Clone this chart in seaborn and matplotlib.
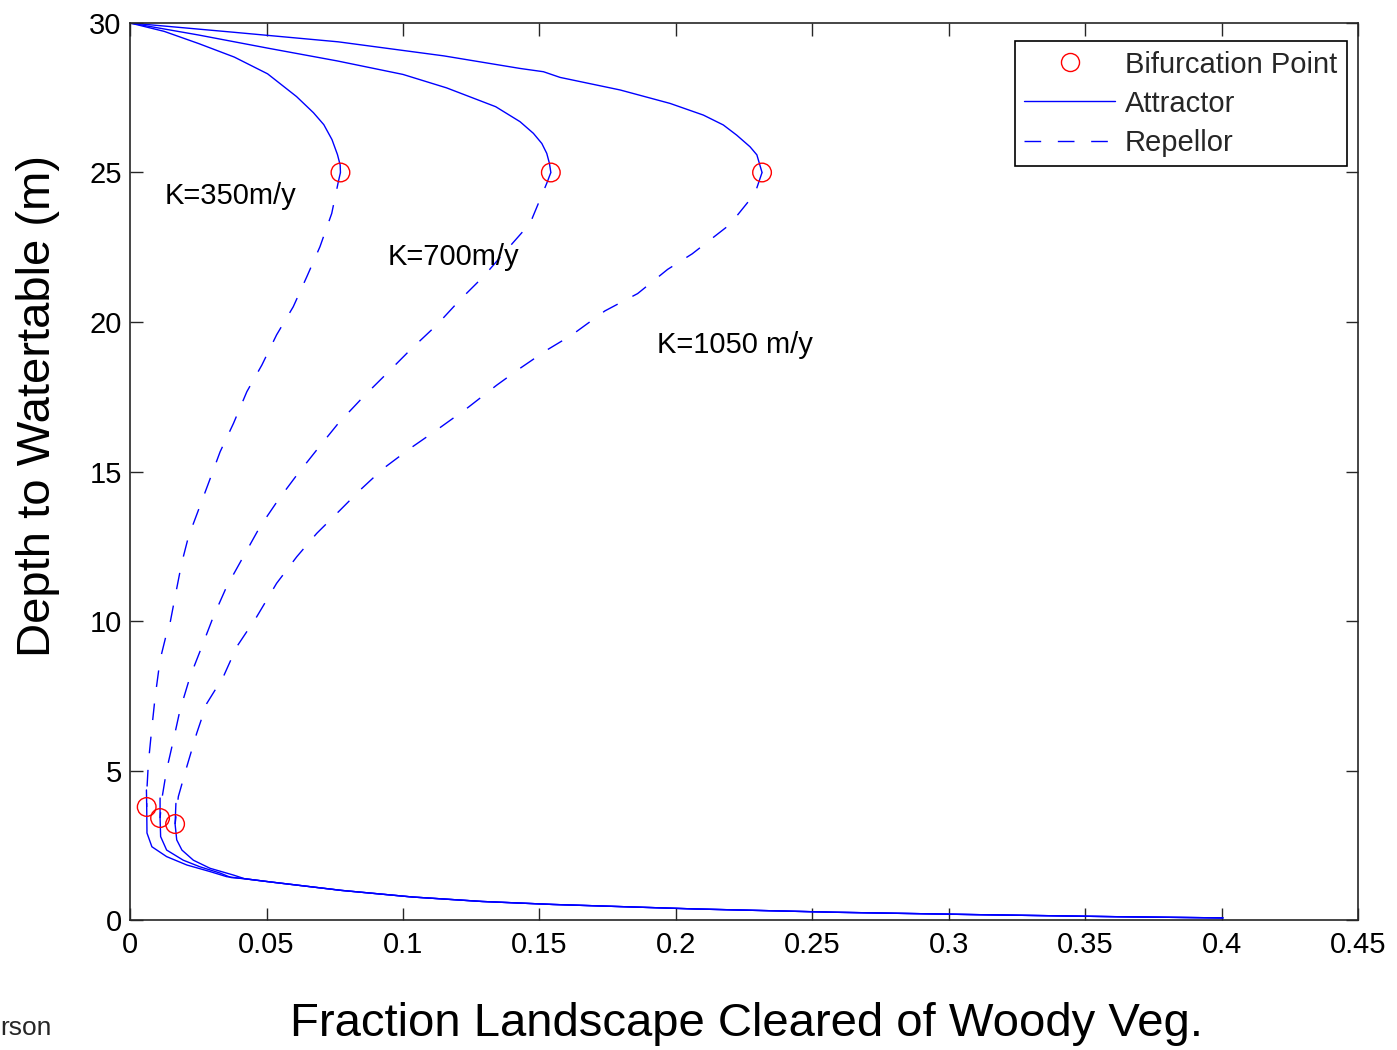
import numpy as np
import pandas as pd
import seaborn as sns
import matplotlib.pyplot as plt
from matplotlib.lines import Line2D


# Upper attractor branches (depth 30 m down to the upper bifurcation)
k350_att_hi_x = [0, 0.0125, 0.0252, 0.0382, 0.0504, 0.0610, 0.0672, 0.0710, 0.0740, 0.0760,
                 0.0770, 0.0771]
k350_att_hi_y = [30, 29.72, 29.31, 28.86, 28.30, 27.54, 27.00, 26.60, 26.10, 25.60,
                 25.25, 25.0]
k700_att_hi_x = [0, 0.0250, 0.0504, 0.0760, 0.1000, 0.1160, 0.1340, 0.1429, 0.1478, 0.1509,
                 0.1527, 0.1537, 0.1542]
k700_att_hi_y = [30, 29.60, 29.16, 28.73, 28.28, 27.83, 27.20, 26.70, 26.31, 25.97,
                 25.64, 25.30, 25.0]
k1050_att_hi_x = [0, 0.0380, 0.0763, 0.1150, 0.1429, 0.1515, 0.1576, 0.1796, 0.1979, 0.2101,
                  0.2174, 0.2223, 0.2272, 0.2297, 0.2316]
k1050_att_hi_y = [30, 29.69, 29.37, 28.90, 28.48, 28.37, 28.18, 27.76, 27.31, 26.92,
                  26.59, 26.25, 25.86, 25.59, 25.0]

# Repellor branches (upper bifurcation down to lower bifurcation)
k350_rep_x = [0.0771, 0.0763, 0.0739, 0.0696, 0.0648, 0.0598, 0.0537, 0.0483, 0.0428, 0.0379,
              0.0330, 0.0287, 0.0244, 0.0214, 0.0189, 0.0165, 0.0144, 0.0134, 0.0110, 0.0092,
              0.0079, 0.0067, 0.0061, 0.0061]
k350_rep_y = [25.0, 24.68, 23.63, 22.52, 21.52, 20.51, 19.57, 18.56, 17.67, 16.61,
              15.66, 14.60, 13.55, 12.82, 11.93, 10.81, 9.81, 9.59, 8.70, 7.47,
              6.35, 5.24, 4.24, 3.78]
k700_rep_x = [0.1542, 0.1527, 0.1466, 0.1380, 0.1295, 0.1209, 0.1124, 0.1026, 0.0941, 0.0855,
              0.0763, 0.0684, 0.0611, 0.0543, 0.0476, 0.0415, 0.0354, 0.0305, 0.0263, 0.0220,
              0.0183, 0.0159, 0.0134, 0.0116, 0.0110]
k700_rep_y = [25.0, 24.64, 23.30, 22.41, 21.52, 20.74, 19.90, 19.06, 18.28, 17.50,
              16.61, 15.72, 14.88, 14.05, 13.15, 12.15, 11.15, 10.14, 9.14, 8.14,
              7.02, 6.02, 5.02, 4.02, 3.41]
k1050_rep_x = [0.2316, 0.2290, 0.2198, 0.2060, 0.1970, 0.1860, 0.1740, 0.1618, 0.1527, 0.1429,
               0.1344, 0.1234, 0.1124, 0.1026, 0.0928, 0.0843, 0.0770, 0.0684, 0.0611, 0.0537,
               0.0464, 0.0391, 0.0342, 0.0281, 0.0244, 0.0208, 0.0177, 0.0165]
k1050_rep_y = [25.0, 24.30, 23.26, 22.28, 21.76, 20.95, 20.37, 19.56, 19.06, 18.45,
               17.89, 17.11, 16.39, 15.77, 15.10, 14.38, 13.71, 12.93, 12.15, 11.26,
               10.14, 9.14, 8.14, 7.24, 6.24, 5.13, 4.13, 3.21]

# Lower attractor branches (joining the common tail near the surface)
k350_att_lo_x = [0.0060, 0.0061, 0.0062, 0.0080, 0.0134, 0.0208, 0.0293, 0.0354]
k350_att_lo_y = [4.35, 3.78, 2.91, 2.45, 2.12, 1.84, 1.62, 1.45]
k700_att_lo_x = [0.0110, 0.0110, 0.0112, 0.0134, 0.0195, 0.0256, 0.0330, 0.0370]
k700_att_lo_y = [4.08, 3.41, 2.79, 2.34, 2.00, 1.78, 1.57, 1.42]
k1050_att_lo_x = [0.0168, 0.0165, 0.0171, 0.0190, 0.0232, 0.0293, 0.0380]
k1050_att_lo_y = [3.90, 3.21, 2.68, 2.34, 2.00, 1.73, 1.50]
tail_x = [0.0420, 0.0517, 0.0775, 0.1034, 0.1290, 0.1550, 0.2070, 0.2580, 0.3100, 0.3620, 0.4005]
tail_y = [1.38, 1.27, 0.99, 0.77, 0.62, 0.52, 0.37, 0.26, 0.18, 0.11, 0.07]

# Bifurcation points
bif_x = [0.0771, 0.1542, 0.2316, 0.0061, 0.0110, 0.0165]
bif_y = [25.0, 25.0, 25.0, 3.78, 3.41, 3.21]

# Curve labels
k_labels = ['K=350m/y', 'K=700m/y', 'K=1050 m/y']
k_label_x = [0.0128, 0.0945, 0.193]
k_label_y = [24.2, 22.17, 19.23]

x_ticks = [0, 0.05, 0.1, 0.15, 0.2, 0.25, 0.3, 0.35, 0.4, 0.45]
x_tick_labels = ['0', '0.05', '0.1', '0.15', '0.2', '0.25', '0.3', '0.35', '0.4', '0.45']
y_ticks = [0, 5, 10, 15, 20, 25, 30]


sns.set_theme(style='ticks')
plt.rcParams['font.family'] = ['Liberation Sans', 'DejaVu Sans']

fig = plt.figure(figsize=(13.97, 10.5), dpi=100)
ax = fig.add_axes([0.0931, 0.1238, 0.8790, 0.8543])

blue = '#0000ff'
dash = (0, (12, 12))

attractors = [
    (k350_att_hi_x, k350_att_hi_y),
    (k700_att_hi_x, k700_att_hi_y),
    (k1050_att_hi_x, k1050_att_hi_y),
    (k350_att_lo_x + tail_x, k350_att_lo_y + tail_y),
    (k700_att_lo_x + tail_x, k700_att_lo_y + tail_y),
    (k1050_att_lo_x + tail_x, k1050_att_lo_y + tail_y),
]
repellors = [
    (k350_rep_x, k350_rep_y),
    (k700_rep_x, k700_rep_y),
    (k1050_rep_x, k1050_rep_y),
]

for xs, ys in attractors:
    df = pd.DataFrame({'x': xs, 'y': ys})
    sns.lineplot(data=df, x='x', y='y', sort=False, estimator=None,
                 color=blue, linewidth=1.0, ax=ax)

for xs, ys in repellors:
    df = pd.DataFrame({'x': xs, 'y': ys})
    sns.lineplot(data=df, x='x', y='y', sort=False, estimator=None,
                 color=blue, linewidth=1.0, linestyle=dash, ax=ax)

sns.scatterplot(x=bif_x, y=bif_y, marker='o', s=180, facecolors='none',
                edgecolors='red', linewidths=1.0, ax=ax, zorder=5)

for label, lx, ly in zip(k_labels, k_label_x, k_label_y):
    ax.text(lx, ly, label, fontsize=21, ha='left', va='center', color='black')

ax.set_xlim(0, 0.45)
ax.set_ylim(0, 30)
ax.set_xticks(x_ticks)
ax.set_xticklabels(x_tick_labels)
ax.set_yticks(y_ticks)
ax.tick_params(direction='in', top=True, right=True, length=9, width=1.0,
               labelsize=21, color='#262626', labelcolor='black')
ax.tick_params(axis='x', pad=8)
ax.tick_params(axis='y', pad=6)
for spine in ax.spines.values():
    spine.set_color('#262626')
    spine.set_linewidth(1.2)

ax.set_xlabel('Fraction Landscape Cleared of Woody Veg.', fontsize=34, color='black')
ax.xaxis.label.set_va('center')
ax.xaxis.set_label_coords(0.502, -0.1157)
ax.set_ylabel('Depth to Watertable (m)', fontsize=34, color='black')
ax.yaxis.label.set_va('center')
ax.yaxis.set_label_coords(-0.0749, 0.573)

handles = [
    Line2D([], [], linestyle='none', marker='o', markersize=13, markerfacecolor='none',
           markeredgecolor='red', markeredgewidth=1.0),
    Line2D([], [], color=blue, linewidth=1.0),
    Line2D([], [], color=blue, linewidth=1.0, linestyle=dash),
]
leg = ax.legend(handles, ['Bifurcation Point', 'Attractor', 'Repellor'],
                loc='upper right', bbox_to_anchor=(0.991, 0.98), borderaxespad=0,
                fontsize=21, handlelength=3.1, handletextpad=0.35, labelspacing=0.38,
                borderpad=0.33, fancybox=False, framealpha=1, edgecolor='black')
leg.get_frame().set_linewidth(1.2)

fig.text(0.0, 1 - 1028 / 1050, 'rson', fontsize=19, ha='left', va='center')

fig.savefig('out.png', dpi=100)
